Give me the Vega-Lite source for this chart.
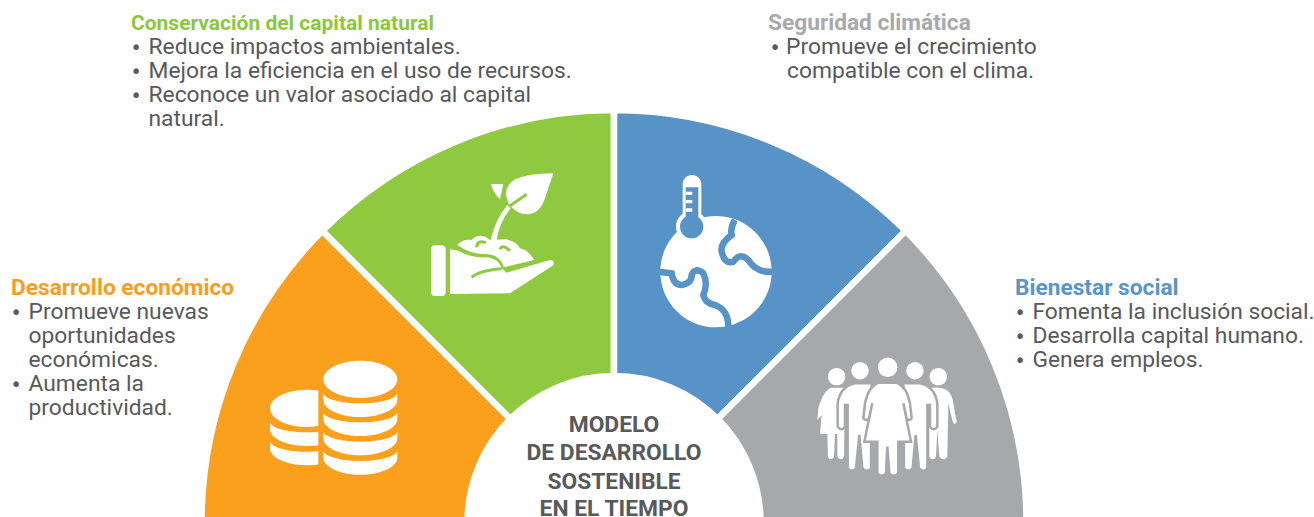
{
"$schema":"https://vega.github.io/schema/vega-lite/v6.json",
"width":1314,"height":517,"padding":0,"autosize":{"type":"none"},"background":"#ffffff",
"config":{"view":{"stroke":null}},
"resolve":{"scale":{"fill":"independent","color":"independent"}},
"encoding":{
"x":{"field":"x","type":"quantitative","axis":null,"scale":{"domain":[0,1314],"range":[0,1314],"nice":false,"zero":false}},
"y":{"field":"y","type":"quantitative","axis":null,"scale":{"domain":[0,517],"range":[0,517],"nice":false,"zero":false}}},
"layer":[
{"data":{"values":[
{"name":"Desarrollo económico","a0":-90,"a1":-45,"x":614,"y":522.5},
{"name":"Conservación del capital natural","a0":-45,"a1":0,"x":614,"y":522.5},
{"name":"Seguridad climática","a0":0,"a1":45,"x":614,"y":522.5},
{"name":"Bienestar social","a0":45,"a1":90,"x":614,"y":522.5}]},
"mark":{"type":"arc","innerRadius":146.5,"outerRadius":412.5,"stroke":"#ffffff","strokeWidth":6.5},
"encoding":{
"theta":{"field":"a0","type":"quantitative","stack":null,"scale":{"domain":[-90,90],"range":[-1.570796,1.570796]}},
"theta2":{"field":"a1"},
"fill":{"field":"name","type":"nominal","legend":null,"scale":{"domain":["Desarrollo económico","Conservación del capital natural","Seguridad climática","Bienestar social"],"range":["#FAA01C","#8FC940","#5893C8","#A7A8AB"]}}}},
{"data":{"values":[{"part":"monedas","x":250,"y":350}]},
"mark":{"type":"point","size":0.44444,"opacity":1,"filled":true,"fill":"#ffffff","strokeWidth":0,"shape":"M220 88A111 56 0 1 0 442 88A111 56 0 1 0 220 88ZM220 128A111 32 0 0 0 442 128L442 150A111 51 0 0 1 220 150ZM220 185A111 32 0 0 0 442 185L442 207A111 51 0 0 1 220 207ZM220 243A111 32 0 0 0 442 243L442 265A111 51 0 0 1 220 265ZM220 301A111 32 0 0 0 442 301L442 323A111 51 0 0 1 220 323ZM205 121.7A111 56 0 0 0 60 175A111 56 0 0 0 205 228.3ZM60 215A111 32 0 0 0 205 245.5L205 285.5A111 51 0 0 1 60 237ZM60 273A111 32 0 0 0 205 303.5L205 343.5A111 51 0 0 1 60 295Z"}},
{"data":{"values":[{"part":"planta","x":400,"y":160}]},
"mark":{"type":"point","size":0.44444,"opacity":1,"filled":true,"fill":"#ffffff","strokeWidth":0,"shape":"M105 256H125Q137 256 137 268V396Q137 408 125 408H105Q93 408 93 396V268Q93 256 105 256ZM150 268L175 272Q215 295 260 292Q295 295 305 325L320 338L450 300Q465 300 460 316L330 400L150 402ZM172 255Q190 235 215 240Q240 215 270 240L318 238Q350 245 360 265Q385 270 402 300L312 322Q300 285 260 282Q215 285 172 255ZM272 240Q285 180 322 135L332 145Q298 185 290 240ZM460 40L435 115Q420 160 385 163Q350 165 325 130L318 105Q318 75 345 58Q385 40 460 40ZM273 72L310 72L300 118Q280 100 273 72Z"}},
{"data":{"values":[{"part":"planta-lineas","x":400,"y":160}]},
"mark":{"type":"point","size":0.44444,"opacity":1,"filled":false,"fill":"transparent","stroke":"#8FC940","strokeWidth":3,"shape":"M380 103L330 137M215 352Q235 332 305 326M230 262Q232 238 258 248M300 268Q305 250 330 272"}},
{"data":{"values":[{"part":"globo","x":640,"y":160}]},
"mark":{"type":"point","size":0.44444,"opacity":1,"filled":true,"fill":"#ffffff","strokeWidth":0,"shape":"M61 335A167 167 0 1 1 395 335A167 167 0 1 1 61 335ZM128 165V73A28 28 0 0 1 184 73V165ZM108 200A47 47 0 1 1 202 200A47 47 0 1 1 108 200Z"}},
{"data":{"values":[{"part":"termometro","x":640,"y":160}]},
"mark":{"type":"point","size":0.44444,"opacity":1,"filled":true,"fill":"#5893C8","strokeWidth":0,"shape":"M137 82H175V172H137ZM120 200A35 35 0 1 1 190 200A35 35 0 1 1 120 200Z"}},
{"data":{"values":[{"part":"termometro-marcas","x":640,"y":160}]},
"mark":{"type":"point","size":0.44444,"opacity":1,"filled":true,"fill":"#ffffff","strokeWidth":0,"shape":"M137 95H157V105H137ZM137 120H157V130H137ZM137 145H157V155H137Z"}},
{"data":{"values":[{"part":"globo-lineas","x":640,"y":160}]},
"mark":{"type":"point","size":0.44444,"opacity":1,"filled":false,"fill":"transparent","stroke":"#5893C8","strokeWidth":6.5,"shape":"M285 180Q270 205 275 225Q240 250 245 275Q255 315 280 305Q300 275 325 300Q350 340 400 335M55 335L95 340Q100 375 125 375Q155 370 155 345Q165 320 190 340Q205 370 190 405Q195 430 225 435Q265 450 265 500"}},
{"data":{"values":[{"part":"personas-atras","x":800,"y":340}]},
"mark":{"type":"point","size":0.44444,"opacity":1,"filled":true,"fill":"#ffffff","strokeWidth":0,"shape":"M136 110A26 26 0 1 1 84 110A26 26 0 1 1 136 110ZM441 110A26 26 0 1 1 389 110A26 26 0 1 1 441 110ZM95 143Q70 150 55 205L52 240L65 225L60 282L82 282L84 350Q92 365 102 350L105 282L112 282L112 350Q122 365 132 350L135 143ZM400 143Q450 140 458 180L470 245Q465 258 458 245L445 190L442 350Q430 365 418 350L412 270L408 350Q398 365 388 350L388 143Z"}},
{"data":{"values":[{"part":"personas-medio","x":800,"y":340}]},
"mark":{"type":"point","size":0.44444,"opacity":1,"filled":true,"fill":"#ffffff","stroke":"#A7A8AB","strokeWidth":2.5,"shape":"M210 92A30 30 0 1 1 150 92A30 30 0 1 1 210 92ZM375 92A30 30 0 1 1 315 92A30 30 0 1 1 375 92ZM165 130Q120 140 113 190L113 260Q125 275 135 260L135 195L143 195L143 385Q155 400 168 385L178 285L187 385Q200 400 213 385L215 130ZM360 130L310 130L312 385Q325 400 338 385L347 285L357 385Q370 400 382 385L382 195L390 195L390 260Q400 275 412 260L412 190Q405 140 360 130Z"}},
{"data":{"values":[{"part":"personas-frente","x":800,"y":340}]},
"mark":{"type":"point","size":0.44444,"opacity":1,"filled":true,"fill":"#ffffff","stroke":"#A7A8AB","strokeWidth":2.5,"shape":"M296 82A33 33 0 1 1 230 82A33 33 0 1 1 296 82ZM235 128Q205 140 195 190L190 235Q200 245 207 235L217 190L193 305L232 305L232 400Q245 415 258 400L262 320L268 400Q280 415 295 400L295 305L333 305L310 190L320 235Q328 245 335 235L330 190Q320 140 290 128Z"}},
{"data":{"values":[
{"t":"Seguridad climática","g":"grey","x":768,"y":30},
{"t":"Desarrollo económico","g":"orange","x":11,"y":295},
{"t":"Bienestar social","g":"blue","x":1015,"y":295}]},
"mark":{"type":"text","align":"left","baseline":"alphabetic","font":"Roboto","fontSize":22.7,"fontWeight":"bold"},
"encoding":{"text":{"field":"t"},
"color":{"field":"g","type":"nominal","legend":null,"scale":{"domain":["grey","orange","blue"],"range":["#A7A9AC","#F99D1C","#5A94C9"]}}}},
{"data":{"values":[
{"t":"Conservación del capital natural","x":131,"y":30}]},
"mark":{"type":"text","align":"left","baseline":"alphabetic","font":"Roboto","fontSize":21,"fontWeight":"bold","color":"#8DC63F"},
"encoding":{"text":{"field":"t"}}},
{"data":{"values":[
{"t":"Reduce impactos ambientales.","x":148.5,"y":54},
{"t":"Mejora la eficiencia en el uso de recursos.","x":148.5,"y":78},
{"t":"Reconoce un valor asociado al capital","x":148.5,"y":102},
{"t":"natural.","x":148.5,"y":126},
{"t":"Promueve el crecimiento","x":786,"y":54},
{"t":"compatible con el clima.","x":787,"y":78},
{"t":"Promueve nuevas","x":28.5,"y":319},
{"t":"oportunidades","x":28.5,"y":343},
{"t":"económicas.","x":28.5,"y":367},
{"t":"Aumenta la","x":28.5,"y":391},
{"t":"productividad.","x":28.5,"y":415},
{"t":"Fomenta la inclusión social.","x":1032.5,"y":319},
{"t":"Desarrolla capital humano.","x":1032.5,"y":343},
{"t":"Genera empleos.","x":1032.5,"y":367}]},
"mark":{"type":"text","align":"left","baseline":"alphabetic","font":"Roboto","fontSize":22.8,"color":"#58595B"},
"encoding":{"text":{"field":"t"}}},
{"data":{"values":[
{"t":"•","x":130.5,"y":54},{"t":"•","x":130.5,"y":78},{"t":"•","x":130.5,"y":102},
{"t":"•","x":769.5,"y":54},
{"t":"•","x":10.5,"y":319},{"t":"•","x":10.5,"y":391},
{"t":"•","x":1014.5,"y":319},{"t":"•","x":1014.5,"y":343},{"t":"•","x":1014.5,"y":367}]},
"mark":{"type":"text","align":"left","baseline":"alphabetic","font":"DejaVu Sans","fontSize":19,"color":"#58595B"},
"encoding":{"text":{"field":"t"}}},
{"data":{"values":[
{"t":"MODELO","x":614,"y":432},
{"t":"DE DESARROLLO","x":614,"y":460},
{"t":"SOSTENIBLE","x":614,"y":489},
{"t":"EN EL TIEMPO","x":614,"y":516}]},
"mark":{"type":"text","align":"center","baseline":"alphabetic","font":"Roboto","fontSize":22.8,"fontWeight":"bold","color":"#58595B"},
"encoding":{"text":{"field":"t"}}}
]}
